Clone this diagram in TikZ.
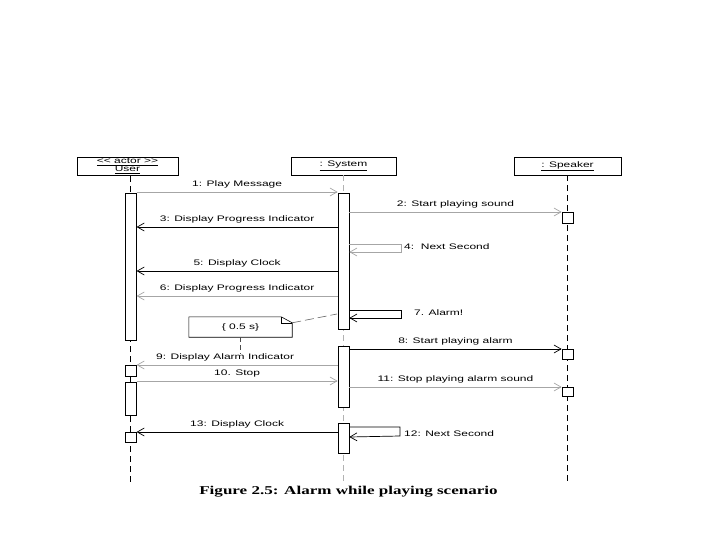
\documentclass[tikz,border=0pt]{standalone}
\usepackage{fontspec}
\setmainfont{Liberation Sans}
\newfontfamily\umlfont[FakeStretch=1.5]{Liberation Sans}
\newfontfamily\capfont[FakeStretch=1.42]{Liberation Serif}
\usetikzlibrary{arrows.meta,calc}

\tikzset{
  obj/.style={draw, line width=0.8pt, minimum height=18pt, inner sep=1pt,
    font=\umlfont\fontsize{8}{9}\selectfont, align=center},
  act/.style={draw, fill=white, line width=0.7pt, inner sep=0pt, minimum width=11pt},
  msg/.style={line width=0.7pt, -{Straight Barb[length=7pt,width=8pt]}},
  msglight/.style={msg, draw=black!35},
  lbl/.style={font=\umlfont\fontsize{8}{9}\selectfont, inner sep=1pt},
  life/.style={line width=0.8pt, dash pattern=on 6pt off 4pt},
}

% activation bar: name, x, top, bottom
\newcommand\actbar[4]{\node[act, minimum height=#4-#3, anchor=north] (#1) at (#2,#3) {};}

\begin{document}
\begin{tikzpicture}[x=1pt,y=-1pt]
\useasboundingbox (0,0) rectangle (720,540);

\def\xu{130.5}
\def\xs{343.5}
\def\xp{567.5}

% objects
\node[obj, minimum width=101pt] (user) at (127.5,166) {\underline{<< actor >>}\\[-1pt]\underline{User}};
\node[obj, minimum width=105pt] (sys) at (\xs,166) {\underline{: System}};
\node[obj, minimum width=107pt] (spk) at (\xp,166) {\underline{: Speaker}};

% lifelines
\coordinate (uend) at (\xu,485);
\coordinate (send) at (\xs,485);
\coordinate (pend) at (\xp,485);
\draw[life] (\xu,176) -- (uend);
\draw[life, draw=black!30] (sys.south) -- (send);
\draw[life] (spk.south) -- (pend);

% activations
\actbar{ua1}{130.75}{193}{340}
\actbar{ub1}{130.75}{365}{376}
\actbar{ua2}{130.75}{382}{415}
\actbar{ub2}{130.75}{432}{442}
\actbar{sa1}{\xs}{193}{329}
\actbar{sa2}{\xs}{346}{407}
\actbar{sa3}{\xs}{423}{453}
\foreach \n/\t/\b in {pa1/212/223, pa2/349/359, pa3/387/396}
{%
  \actbar{\n}{\xp}{\t}{\b}
}

% messages
\draw[msglight] (ua1.east |- 0,192) -- (sa1.west |- 0,192) node[lbl, midway, above=2pt] {1: Play Message};
\draw[msglight] (sa1.east |- 0,212) -- (pa1.west |- 0,212) node[lbl, midway, above=2pt] {2: Start playing sound};
\draw[msg] (sa1.west |- 0,227) -- (ua1.east |- 0,227) node[lbl, midway, above=2pt] {3: Display Progress Indicator};
\draw[msglight] (sa1.east |- 0,244) -| (401,252) -- (sa1.east |- 0,252);
\node[lbl, anchor=west] (m4) at (403,247) {4:\ \ Next Second};
\draw[msg] (sa1.west |- 0,271) -- (ua1.east |- 0,271) node[lbl, midway, above=2pt] {5: Display Clock};
\draw[msglight] (sa1.west |- 0,296) -- (ua1.east |- 0,296) node[lbl, midway, above=2pt] {6: Display Progress Indicator};
\draw[msg] (sa1.east |- 0,310) -| (401,318) -- (sa1.east |- 0,318);
\node[lbl, anchor=west] (m7) at (413,313) {7. Alarm!};
\draw[msg] (sa2.east |- 0,349) -- (pa2.west |- 0,349) node[lbl, midway, above=2pt] {8: Start playing alarm};
\draw[msglight] (sa2.west |- 0,365) -- (ub1.east |- 0,365) node[lbl, midway, above=2pt, xshift=-12pt] {9: Display Alarm Indicator};
\draw[msglight] (ua2.east |- 0,381) -- (sa2.west |- 0,381) node[lbl, midway, above=2pt] {10. Stop};
\draw[msglight] (sa2.east |- 0,387) -- (pa3.west |- 0,387) node[lbl, midway, above=2pt] {11: Stop playing alarm sound};
\draw[msg] (sa3.east |- 0,427) -| (400,436) -- (sa3.east |- 0,437);
\node[lbl, anchor=west] (m12) at (403,434) {12: Next Second};
\draw[msg] (sa3.west |- 0,432) -- (ub2.east |- 0,432) node[lbl, midway, above=2pt] {13: Display Clock};

% timing note
\node[lbl, minimum width=103pt, minimum height=20pt] (note) at (240.5,327) {\{ 0.5 s\}};
\draw[line width=0.6pt] (note.north west) -- ($(note.north east)+(-11,0)$) -- ($(note.north east)+(0,6)$)
  -- (note.south east) -- (note.south west) -- cycle;
\draw[line width=0.5pt] ($(note.north east)+(-11,0)$) -- ($(note.north east)+(-11,6)$) -- ($(note.north east)+(0,6)$);
\coordinate (notetip) at (337,314);
\coordinate (notedown) at (240.5,354);
\draw[black!60, line width=0.6pt, dash pattern=on 9pt off 4pt] ($(note.north east)+(0,6)$) -- (notetip);
\draw[black!70, line width=0.6pt, dash pattern=on 5pt off 3pt] (note.south) -- (notedown);

% caption
\node[font=\capfont\bfseries\fontsize{12}{14}\selectfont] (cap) at (348.5,492) {Figure 2.5: Alarm while playing scenario};

\end{tikzpicture}
\end{document}
